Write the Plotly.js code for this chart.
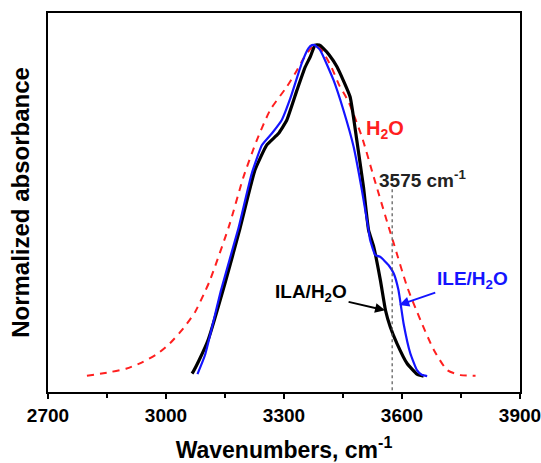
<!DOCTYPE html>
<html>
<head>
<meta charset="utf-8">
<script src="https://cdn.plot.ly/plotly-3.0.1.min.js"></script>
<style>html,body{margin:0;padding:0;background:#fff;}#chart{width:541px;height:463px;}</style>
</head>
<body>
<div id="chart"></div>
<script>
// H2O (red dashed)
var h2oX = [2799, 2857, 2900, 2938, 2980, 3010, 3044, 3074, 3099, 3112, 3161, 3197, 3231, 3265, 3307, 3333, 3350, 3368, 3380, 3392, 3420, 3440, 3464, 3498, 3528, 3566, 3579, 3613, 3647, 3681, 3715, 3749, 3787];
var h2oY = [0.001, 0.012, 0.023, 0.041, 0.069, 0.099, 0.144, 0.194, 0.255, 0.290, 0.456, 0.602, 0.713, 0.804, 0.874, 0.924, 0.960, 0.990, 0.998, 0.991, 0.935, 0.880, 0.829, 0.723, 0.602, 0.451, 0.401, 0.270, 0.169, 0.079, 0.018, 0.003, 0.001];
// ILA/H2O (black)
var ilaX = [3066, 3069, 3085, 3107, 3150, 3188, 3226, 3256, 3286, 3307, 3333, 3354, 3367, 3379, 3390, 3400, 3415, 3435, 3468, 3485, 3502, 3515, 3528, 3545, 3558, 3570, 3587, 3613, 3638, 3655];
var ilaY = [0.008, 0.013, 0.050, 0.109, 0.280, 0.446, 0.622, 0.698, 0.733, 0.773, 0.864, 0.934, 0.965, 1.000, 1.000, 0.990, 0.970, 0.934, 0.844, 0.713, 0.572, 0.441, 0.391, 0.290, 0.199, 0.149, 0.099, 0.038, 0.006, 0.000];
// ILE/H2O (blue)
var ileX = [3080, 3099, 3140, 3184, 3218, 3244, 3269, 3294, 3316, 3345, 3362, 3371, 3378, 3392, 3426, 3451, 3477, 3498, 3515, 3519, 3532, 3545, 3566, 3579, 3591, 3604, 3621, 3638, 3650, 3664];
var ileY = [0.006, 0.063, 0.260, 0.446, 0.612, 0.698, 0.733, 0.773, 0.839, 0.945, 0.990, 1.000, 1.000, 0.985, 0.894, 0.804, 0.693, 0.562, 0.441, 0.411, 0.366, 0.360, 0.335, 0.310, 0.260, 0.159, 0.069, 0.018, 0.004, 0.000];
var xTicks = [2700, 3000, 3300, 3600, 3900];
var markerX = 3575;

var FONT = 'Liberation Sans, Arial, sans-serif';
var traces = [
  {x: h2oX, y: h2oY, mode: 'lines', line: {color: '#ff1f1f', width: 2, dash: '7px,6px', shape: 'spline', smoothing: 0.6}, hoverinfo: 'none'},
  {x: ilaX, y: ilaY, mode: 'lines', line: {color: '#000000', width: 3.2, shape: 'spline', smoothing: 0.4}, hoverinfo: 'none'},
  {x: ileX, y: ileY, mode: 'lines', line: {color: '#1414ff', width: 2.2, shape: 'spline', smoothing: 0.4}, hoverinfo: 'none'}
];
var layout = {
  width: 541, height: 463,
  margin: {l: 48, r: 21, t: 13, b: 71},
  paper_bgcolor: '#fff', plot_bgcolor: '#fff',
  showlegend: false,
  font: {family: FONT, color: '#000'},
  xaxis: {
    range: [2700, 3900], tickvals: xTicks, ticktext: xTicks.map(String),
    ticklabeloverflow: 'allow',
    showline: true, mirror: true, linecolor: '#000', linewidth: 2,
    ticks: 'outside', ticklen: 5, tickwidth: 2, tickcolor: '#000',
    minor: {dtick: 150, tick0: 2700, ticks: 'outside', ticklen: 4, tickwidth: 2, tickcolor: '#000', showgrid: false},
    showgrid: false, zeroline: false,
    tickfont: {family: FONT, size: 19, color: '#000', weight: 'bold'},
    title: {text: '<b>Wavenumbers, cm<sup>-1</sup></b>', font: {family: FONT, size: 23, color: '#000'}, standoff: 19}
  },
  yaxis: {
    range: [-0.048, 1.097],
    showline: true, mirror: true, linecolor: '#000', linewidth: 2,
    ticks: '', showticklabels: false, showgrid: false, zeroline: false,
    title: {text: '<b>Normalized absorbance</b>', font: {family: FONT, size: 24, color: '#000'}, standoff: 10}
  },
  shapes: [
    {type: 'line', xref: 'x', yref: 'y', x0: markerX, x1: markerX, y0: 0.583, y1: -0.048, line: {color: '#555', width: 1.2, dash: 'dot'}}
  ],
  annotations: [
    {x: 3503, y: 0.745, xref: 'x', yref: 'y', text: '<b>H<sub>2</sub>O</b>', showarrow: false, xanchor: 'left', yanchor: 'middle', font: {family: FONT, size: 20, color: '#ff1f1f'}},
    {x: 3536, y: 0.597, xref: 'x', yref: 'y', text: '<b>3575 cm<sup>-1</sup></b>', showarrow: false, xanchor: 'left', yanchor: 'middle', font: {family: FONT, size: 19, color: '#222'}},
    {x: 3557, y: 0.199, xref: 'x', yref: 'y', text: '<b>ILA/H<sub>2</sub>O</b>', showarrow: true, arrowhead: 2, arrowsize: 1, arrowwidth: 2, arrowcolor: '#000', ax: -74, ay: -17, standoff: 0, font: {family: FONT, size: 19, color: '#000'}},
    {x: 3593, y: 0.215, xref: 'x', yref: 'y', text: '<b>ILE/H<sub>2</sub>O</b>', showarrow: true, arrowhead: 2, arrowsize: 1, arrowwidth: 2, arrowcolor: '#1414ff', ax: 73, ay: -25, standoff: 0, font: {family: FONT, size: 19, color: '#1414ff'}}
  ]
};
Plotly.newPlot('chart', traces, layout, {staticPlot: true, displayModeBar: false});
</script>
</body>
</html>
